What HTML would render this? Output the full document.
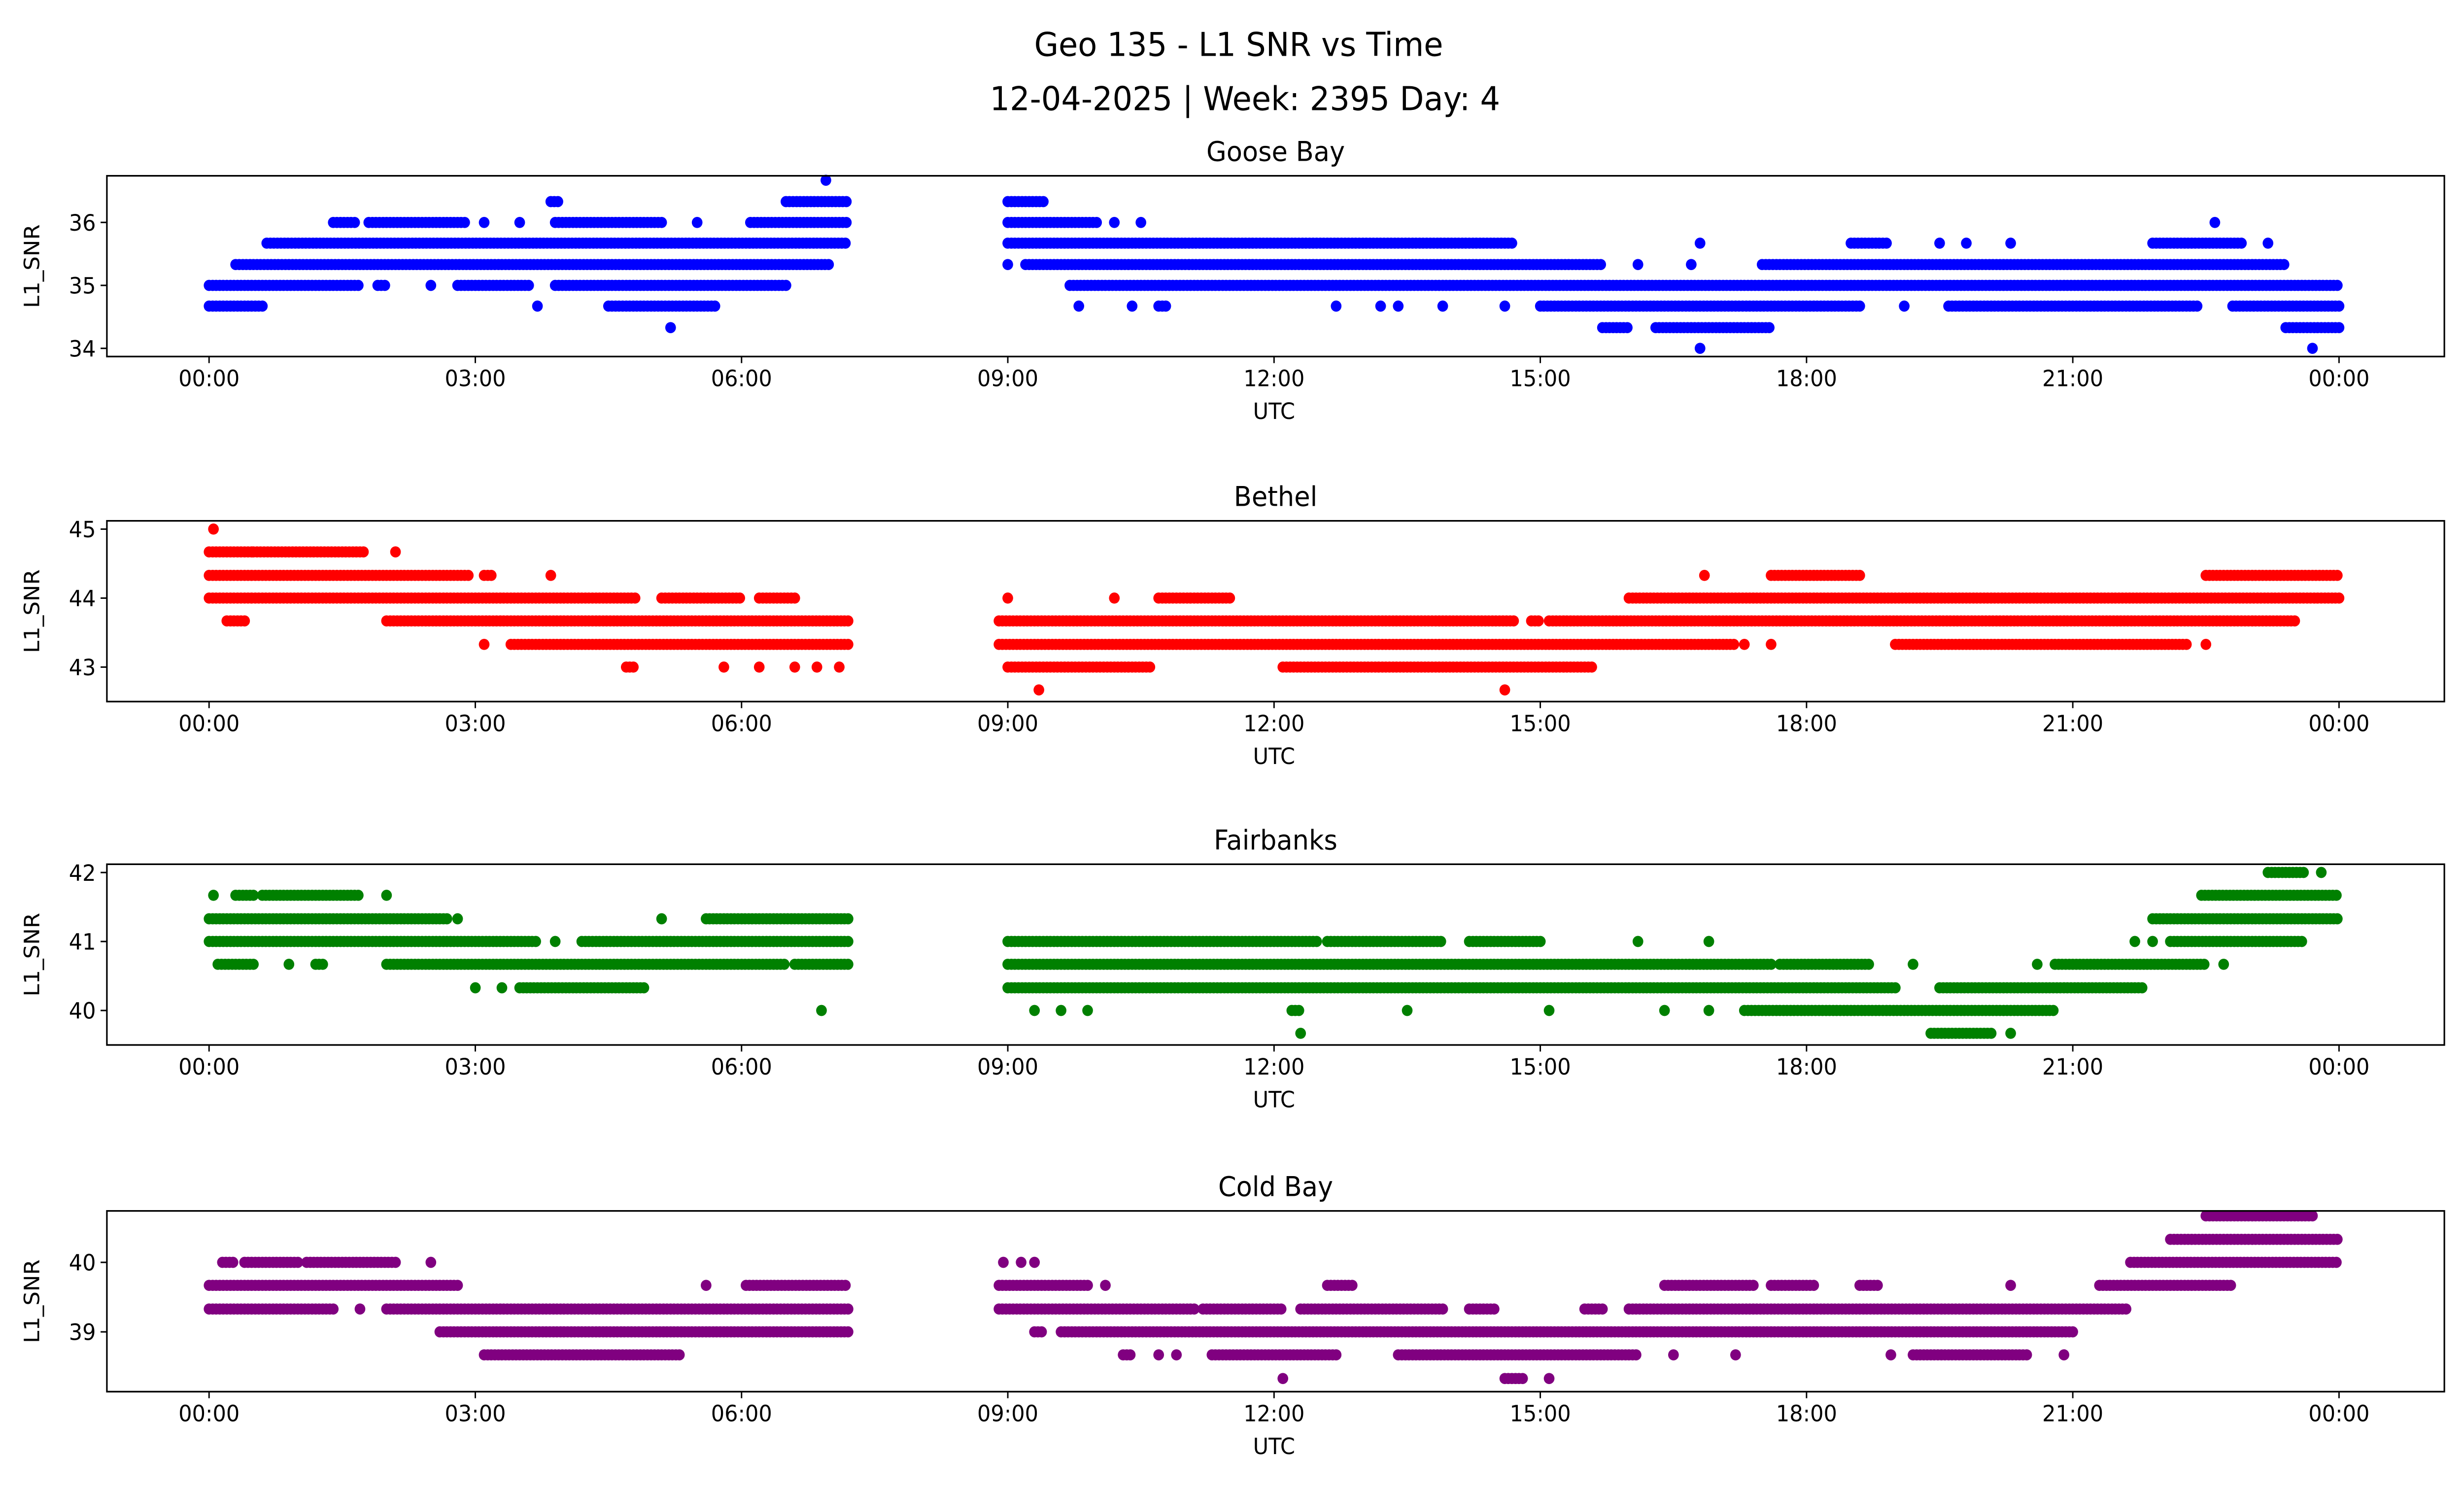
<!DOCTYPE html>
<html><head><meta charset="utf-8"><style>
html,body{margin:0;padding:0;background:#fff;overflow:hidden;width:100%;height:100%;}
svg{display:block;position:fixed;left:0;top:0;width:100vw;height:100vh;font-family:"DejaVu Sans","Liberation Sans",sans-serif;}
</style></head><body>
<svg id="chart" viewBox="0 0 1567.5 909.9" preserveAspectRatio="none" xmlns="http://www.w3.org/2000/svg">
<rect width="1567.5" height="909.9" fill="#fff"/>
<text x="788" y="34" font-size="20" text-anchor="middle">Geo 135 - L1 SNR vs Time</text>
<text x="792" y="67" font-size="20" text-anchor="middle">12-04-2025 | Week: 2395 Day: 4</text>
<g id="panels"></g>
</svg>
<script>
const xTickLabels = ["00:00","03:00","06:00","09:00","12:00","15:00","18:00","21:00","00:00"];
const xTickHours = [0,3,6,9,12,15,18,21,24];
const stationNames = ["Goose Bay","Bethel","Fairbanks","Cold Bay"];
const stationColors = ["#0000ff","#ff0000","#008000","#800080"];
const yTicksGoose = [34,35,36];
const yTicksBethel = [43,44,45];
const yTicksFair = [40,41,42];
const yTicksCold = [39,40];
const yRanges = [[33.87,36.74],[42.5,45.12],[39.5,42.12],[38.14,40.74]];
// runs: [snr level, start hour, end hour]
const gooseRuns = [
[36.67,6.95,6.95],
[36.33,3.85,3.95],[36.33,6.5,7.2],[36.33,9.0,9.4],
[36,1.4,1.65],[36,1.8,2.9],[36,3.1,3.1],[36,3.5,3.5],[36,3.9,5.1],[36,5.5,5.5],[36,6.1,7.2],[36,9.0,10.0],[36,10.2,10.2],[36,10.5,10.5],[36,22.6,22.6],
[35.67,0.65,7.2],[35.67,9.0,14.7],[35.67,16.8,16.8],[35.67,18.5,18.9],[35.67,19.5,19.5],[35.67,19.8,19.8],[35.67,20.3,20.3],[35.67,21.9,22.9],[35.67,23.2,23.2],
[35.33,0.3,7.0],[35.33,9.0,9.0],[35.33,9.2,15.7],[35.33,16.1,16.1],[35.33,16.7,16.7],[35.33,17.5,23.4],
[35,0,1.7],[35,1.9,2.0],[35,2.5,2.5],[35,2.8,3.6],[35,3.9,6.5],[35,9.7,24],
[34.67,0,0.6],[34.67,3.7,3.7],[34.67,4.5,5.7],[34.67,9.8,9.8],[34.67,10.4,10.4],[34.67,10.7,10.8],[34.67,12.7,12.7],[34.67,13.2,13.2],[34.67,13.4,13.4],[34.67,13.9,13.9],[34.67,14.6,14.6],[34.67,15.0,18.6],[34.67,19.1,19.1],[34.67,19.6,22.4],[34.67,22.8,24],
[34.33,5.2,5.2],[34.33,15.7,16.0],[34.33,16.3,17.6],[34.33,23.4,24],
[34,16.8,16.8],[34,23.7,23.7]];
const bethelRuns = [
[45,0.05,0.05],
[44.67,0,0.5],[44.67,0.5,1.75],[44.67,2.1,2.1],
[44.33,0,2.95],[44.33,3.1,3.2],[44.33,3.85,3.85],[44.33,16.85,16.85],[44.33,17.6,18.6],[44.33,22.5,24],
[44,0,4.8],[44,5.1,6.0],[44,6.2,6.6],[44,9.0,9.0],[44,10.2,10.2],[44,10.7,11.5],[44,16,24],
[43.67,0.2,0.4],[43.67,2.0,7.2],[43.67,8.9,14.7],[43.67,14.9,15.0],[43.67,15.1,23.5],
[43.33,3.1,3.1],[43.33,3.4,7.2],[43.33,8.9,17.2],[43.33,17.3,17.3],[43.33,17.6,17.6],[43.33,19.0,22.3],[43.33,22.5,22.5],
[43,4.7,4.8],[43,5.8,5.8],[43,6.2,6.2],[43,6.6,6.6],[43,6.85,6.85],[43,7.1,7.1],[43,9.0,10.6],[43,12.1,15.6],
[42.67,9.35,9.35],[42.67,14.6,14.6]];
const fairRuns = [
[42,23.2,23.6],[42,23.8,23.8],
[41.67,0.05,0.05],[41.67,0.3,0.5],[41.67,0.6,1.7],[41.67,2.0,2.0],[41.67,22.45,24],
[41.33,0,2.7],[41.33,2.8,2.8],[41.33,5.1,5.1],[41.33,5.6,7.2],[41.33,21.9,24],
[41,0,3.7],[41,3.9,3.9],[41,4.2,7.2],[41,9.0,12.5],[41,12.6,13.9],[41,14.2,15.0],[41,16.1,16.1],[41,16.9,16.9],[41,21.7,21.7],[41,21.9,21.9],[41,22.1,23.6],
[40.67,0.1,0.5],[40.67,0.9,0.9],[40.67,1.2,1.3],[40.67,2.0,6.5],[40.67,6.6,7.2],[40.67,9.0,17.6],[40.67,17.7,18.7],[40.67,19.2,19.2],[40.67,20.6,20.6],[40.67,20.8,22.5],[40.67,22.7,22.7],
[40.33,3.0,3.0],[40.33,3.3,3.3],[40.33,3.5,4.9],[40.33,9.0,19.0],[40.33,19.5,21.8],
[40,6.9,6.9],[40,9.3,9.3],[40,9.6,9.6],[40,9.9,9.9],[40,12.2,12.3],[40,13.5,13.5],[40,15.1,15.1],[40,16.4,16.4],[40,16.9,16.9],[40,17.3,20.8],
[39.67,12.3,12.3],[39.67,19.4,20.1],[39.67,20.3,20.3]];
const coldRuns = [
[40.67,22.5,23.7],
[40.33,22.1,24],
[40,0.15,0.3],[40,0.4,1.0],[40,1.1,2.1],[40,2.5,2.5],[40,8.95,8.95],[40,9.15,9.15],[40,9.3,9.3],[40,21.65,24],
[39.67,0,2.8],[39.67,5.6,5.6],[39.67,6.05,7.2],[39.67,8.9,9.9],[39.67,10.1,10.1],[39.67,12.6,12.9],[39.67,16.4,17.4],[39.67,17.6,18.1],[39.67,18.6,18.8],[39.67,20.3,20.3],[39.67,21.3,22.8],
[39.33,0,1.4],[39.33,1.7,1.7],[39.33,2.0,7.2],[39.33,8.9,11.1],[39.33,11.2,12.1],[39.33,12.3,13.9],[39.33,14.2,14.5],[39.33,15.5,15.7],[39.33,16.0,21.6],
[39,2.6,7.2],[39,9.3,9.4],[39,9.6,21.0],
[38.67,3.1,5.3],[38.67,10.3,10.4],[38.67,10.7,10.7],[38.67,10.9,10.9],[38.67,11.3,12.7],[38.67,13.4,16.1],[38.67,16.5,16.5],[38.67,17.2,17.2],[38.67,18.95,18.95],[38.67,19.2,20.5],[38.67,20.9,20.9],
[38.33,12.1,12.1],[38.33,14.6,14.8],[38.33,15.1,15.1]];
const allRuns = [gooseRuns,bethelRuns,fairRuns,coldRuns];
const allYTicks = [yTicksGoose,yTicksBethel,yTicksFair,yTicksCold];

const NS="http://www.w3.org/2000/svg";
const AX_L=68, AX_R=1555, AX_W=AX_R-AX_L;
const panelTops=[107,317,526,737], PANEL_H=110;
const X0=133, X24=1488;
const xScale = h => X0 + (X24-X0)*h/24;
function mk(tag, attrs, parent){const e=document.createElementNS(NS,tag);for(const k in attrs)e.setAttribute(k,attrs[k]);parent.appendChild(e);return e;}
const root=document.getElementById('panels');
for(let p=0;p<4;p++){
  const top=panelTops[p], bot=top+PANEL_H, [y0,y1]=yRanges[p];
  const yScale = v => bot - (v-y0)/(y1-y0)*PANEL_H;
  const g=mk('g',{},root);
  
  
  const t=mk('text',{x:(AX_L+AX_R)/2,y:top-9,'font-size':16.5,'text-anchor':'middle'},g);
  t.textContent=stationNames[p];
  
  
  const pts=mk('g',{fill:stationColors[p]},g);
  
  
  for(const r of allRuns[p]){
    const [lv,s,e]=r;
    for(let h=s; h<=e+1e-9; h+=0.04){
      mk('circle',{cx:xScale(h).toFixed(1),cy:yScale(lv).toFixed(1),r:3.4},pts);
    }
  }
  const frame=mk('rect',{x:AX_L,y:top,width:AX_W,height:PANEL_H,fill:'none',stroke:'#000','stroke-width':1},g);
  
  
  xTickHours.forEach((h,i)=>{
    const x=xScale(h);
    mk('line',{x1:x,x2:x,y1:bot,y2:bot+4,stroke:'#000','stroke-width':0.9},g);
    const tl=mk('text',{x:x,y:bot+18,'font-size':13.5,'text-anchor':'middle'},g);
    tl.textContent=xTickLabels[i];
    
    
  });
  const xl=mk('text',{x:(AX_L+AX_R)/2-1,y:bot+38,'font-size':13.5,'text-anchor':'middle'},g);
  xl.textContent='UTC';
  
  
  allYTicks[p].forEach(v=>{
    const y=yScale(v);
    mk('line',{x1:AX_L-4,x2:AX_L,y1:y,y2:y,stroke:'#000','stroke-width':0.9},g);
    const yl=mk('text',{x:AX_L-7,y:y+5,'font-size':13.5,'text-anchor':'end'},g);
    yl.textContent=String(v);
    
    
  });
  const yt=mk('text',{x:25,y:top+PANEL_H/2,'font-size':13.5,'text-anchor':'middle',transform:`rotate(-90 25 ${top+PANEL_H/2})`},g);
  yt.textContent='L1_SNR';
  
  
}
</script>
</body></html>
